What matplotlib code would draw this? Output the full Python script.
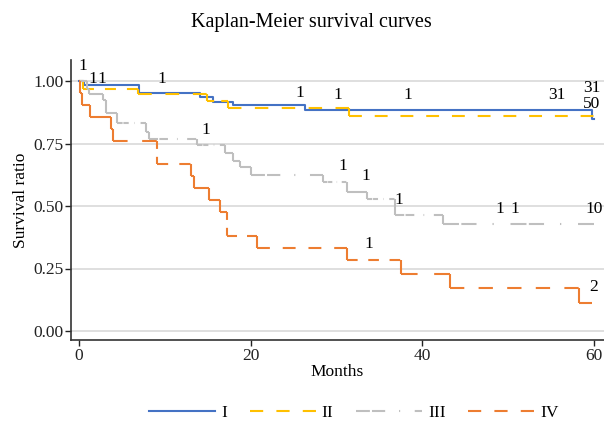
import numpy as np
import matplotlib
matplotlib.use("Agg")
import matplotlib.pyplot as plt
from matplotlib.lines import Line2D

plt.rcParams['font.family'] = ['Liberation Serif', 'DejaVu Serif']
plt.rcParams['lines.scale_dashes'] = False

# survival step data (months, survival ratio)
months_I = [0, 0.6, 7.0, 14.1, 15.6, 18.0, 26.3, 59.8, 60.0]
surv_I = [1.0, 0.984, 0.952, 0.936, 0.916, 0.904, 0.884, 0.848, 0.848]

months_II = [0, 0.5, 6.9, 14.9, 17.4, 31.5, 60.0]
surv_II = [1.0, 0.969, 0.947, 0.920, 0.892, 0.860, 0.860]

months_III = [0, 0.9, 1.2, 2.8, 3.1, 4.4, 7.8, 8.2, 13.7, 17.0, 17.9, 18.8,
              20.0, 28.5, 31.2, 33.6, 36.8, 42.4, 60.0]
surv_III = [1.0, 0.970, 0.947, 0.924, 0.871, 0.831, 0.797, 0.768, 0.744, 0.713,
            0.681, 0.655, 0.624, 0.597, 0.557, 0.527, 0.464, 0.427, 0.427]

months_IV = [0, 0.1, 0.3, 1.3, 3.7, 4.0, 9.1, 13.0, 13.4, 15.2, 16.4, 17.3,
             20.8, 31.3, 37.5, 43.3, 58.3, 59.8]
surv_IV = [1.0, 0.952, 0.905, 0.857, 0.810, 0.762, 0.667, 0.619, 0.571, 0.524,
           0.476, 0.381, 0.333, 0.286, 0.229, 0.171, 0.114, 0.114]

# censoring counts: (time, count)
cens_I = [(0.4, "1"), (30.2, "1"), (38.3, "1"), (55.7, "31"), (59.8, "50")]
cens_II = [(9.7, "1"), (25.8, "1"), (59.8, "31")]
cens_III = [(1.6, "1"), (2.7, "1"), (14.8, "1"), (30.8, "1"), (33.4, "1"),
            (37.3, "1"), (49.0, "1"), (50.8, "1"), (60.0, "10")]
cens_IV = [(33.8, "1"), (60.0, "2")]

groups = ["I", "II", "III", "IV"]

colors = {"I": "#4472C4", "II": "#FFC000", "III": "#BFBFBF", "IV": "#ED7D31"}
dashes = {
    "I": None,
    "II": (9.5, 9.5),
    "III": (10, 1.5, 9.5, 10, 0.8, 10.5),
    "IV": (9.5, 9.5),
}

data = {
    "I": (months_I, surv_I, cens_I),
    "II": (months_II, surv_II, cens_II),
    "III": (months_III, surv_III, cens_III),
    "IV": (months_IV, surv_IV, cens_IV),
}

# a label is nudged to avoid overlap (points)
nudge = {("II", 59.8): 9}

LW = 1.5


def value_at(months, surv, t):
    idx = np.searchsorted(months, t, side="right") - 1
    return surv[max(idx, 0)]


def seg_length_pt(ax, p0, p1):
    a, b = ax.transData.transform([p0, p1])
    return np.hypot(*(b - a)) * 72.0 / ax.figure.dpi


def draw_segment(ax, p0, p1, color, pattern):
    xs, ys = [p0[0], p1[0]], [p0[1], p1[1]]
    if pattern is None:
        ax.plot(xs, ys, color=color, lw=LW, solid_capstyle="butt")
        return
    L = seg_length_pt(ax, p0, p1)
    period = sum(pattern)
    first = pattern[0]
    if L <= first * 1.6:
        ax.plot(xs, ys, color=color, lw=LW, solid_capstyle="butt")
        return
    # fit pattern so the segment starts and ends with a dash
    n = max(1, int(round((L - first) / period)))
    k = L / (n * period + first)
    pat = tuple(v * k for v in pattern)
    ax.plot(xs, ys, color=color, lw=LW, linestyle=(0, pat),
            dash_capstyle="butt")


fig = plt.figure(figsize=(6.04, 4.25), dpi=100)
ax = fig.add_axes([71 / 604, 1 - 340 / 425, 533 / 604, 280 / 425])
ax.set_xlim(-0.93, 61.2)
ax.set_ylim(-0.036, 1.084)

for g in groups:
    m, s, c = data[g]
    if dashes[g] is None:
        ax.step(m, s, where="post", color=colors[g], lw=LW)
        continue
    for i in range(len(m) - 1):
        draw_segment(ax, (m[i], s[i]), (m[i + 1], s[i]), colors[g], dashes[g])
        if s[i + 1] != s[i]:
            draw_segment(ax, (m[i + 1], s[i]), (m[i + 1], s[i + 1]),
                         colors[g], dashes[g])

for g in groups:
    m, s, c = data[g]
    for t, txt in c:
        y = value_at(m, s, t)
        ax.annotate(txt, (t, y), xytext=(0, 11 + nudge.get((g, t), 0)),
                    textcoords="offset points", ha="center", va="center",
                    fontsize=12.5, color="black")

ax.set_xticks([0, 20, 40, 60])
ax.set_yticks([0, 0.25, 0.5, 0.75, 1.0])
ax.set_yticklabels(["0.00", "0.25", "0.50", "0.75", "1.00"])
ax.yaxis.grid(True, color="#D9D9D9", linewidth=1.2)
ax.set_axisbelow(True)
ax.tick_params(axis="both", direction="out", length=4, width=1, labelsize=12.5,
               pad=1.5, colors="#222222")
ax.tick_params(axis="x", pad=2)
for sp in ["top", "right"]:
    ax.spines[sp].set_visible(False)
for sp in ["left", "bottom"]:
    ax.spines[sp].set_linewidth(1.2)
    ax.spines[sp].set_color("#333333")

ax.set_xlabel("Months", fontsize=12.5, labelpad=0)
ax.set_ylabel("Survival ratio", fontsize=12.5, labelpad=3)
fig.text(0.515, 1 - 22 / 425, "Kaplan-Meier survival curves", ha="center",
         va="center", fontsize=14.5)

handles = []
for g in groups:
    ls = "-" if dashes[g] is None else (0, dashes[g])
    handles.append(Line2D([], [], color=colors[g], lw=LW, linestyle=ls))
fig.legend(handles, groups, loc="center",
           bbox_to_anchor=(354 / 604, 1 - 413 / 425), ncol=4,
           frameon=False, fontsize=12.5, handlelength=3.8, handletextpad=0.35,
           columnspacing=1.3)

fig.savefig("out.png", dpi=100)
